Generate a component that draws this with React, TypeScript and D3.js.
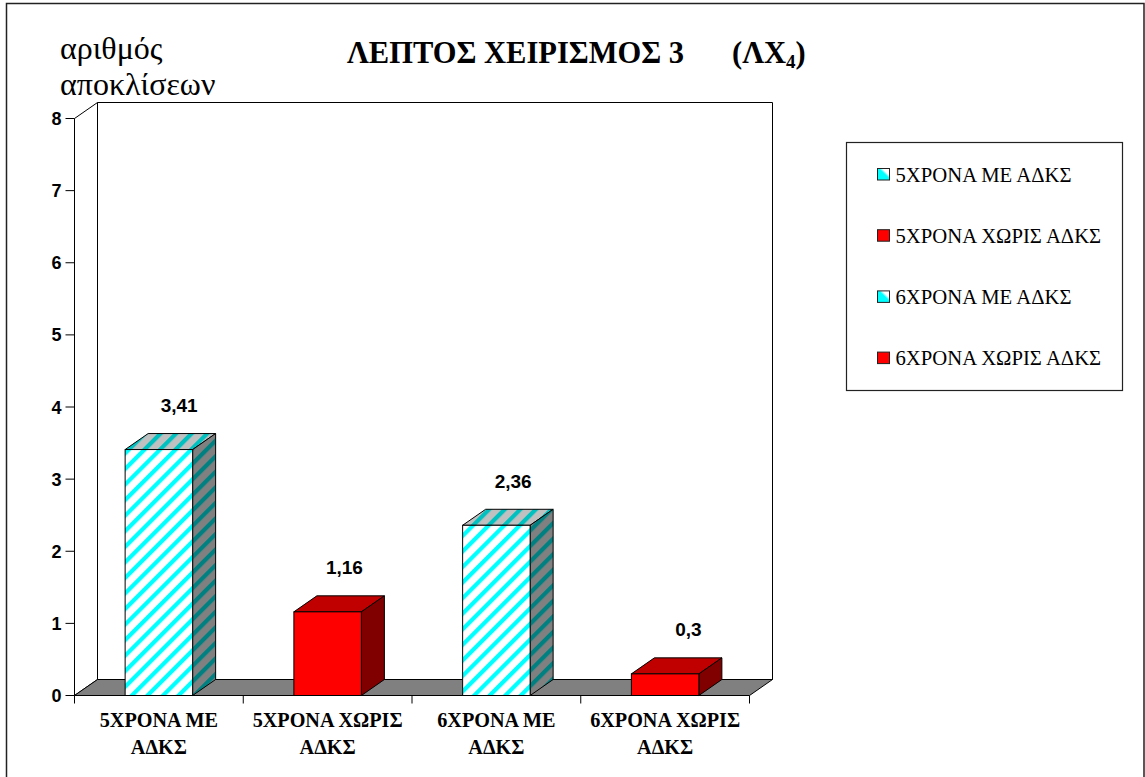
import React from "react";
import * as d3 from "d3";

const categories = ["5ΧΡΟΝΑ ΜΕ ΑΔΚΣ", "5ΧΡΟΝΑ ΧΩΡΙΣ ΑΔΚΣ", "6ΧΡΟΝΑ ΜΕ ΑΔΚΣ", "6ΧΡΟΝΑ ΧΩΡΙΣ ΑΔΚΣ"];
const axisLines = [["5ΧΡΟΝΑ ΜΕ", "ΑΔΚΣ"], ["5ΧΡΟΝΑ ΧΩΡΙΣ", "ΑΔΚΣ"], ["6ΧΡΟΝΑ ΜΕ", "ΑΔΚΣ"], ["6ΧΡΟΝΑ ΧΩΡΙΣ", "ΑΔΚΣ"]];
const values = [3.41, 1.16, 2.36, 0.3];
const valueLabels = ["3,41", "1,16", "2,36", "0,3"];
const striped = [true, false, true, false];
const yTicks = [0, 1, 2, 3, 4, 5, 6, 7, 8];

const SERIF = "'Liberation Serif', 'Times New Roman', serif";
const SANS = "'Liberation Sans', Arial, sans-serif";

// Projection of the 3D depth and bar size
const DX = 23;
const DY = -16;
const BAR_W = 67.5;
// Horizontal nudge of each value label from its bar's left edge
const labelShift = [54, 50.5, 50.5, 57];

const x = d3.scaleBand<string>().domain(categories).range([74.5, 749.5]).paddingInner(0).paddingOuter(0);
const y = d3.scaleLinear().domain([0, 8]).range([695.5, 118.5]);

function poly(pts: [number, number][]) {
  return (d3.line()(pts) as string) + "Z";
}

function stripes(id: string, bg: string, fg: string) {
  return (
    <pattern id={id} width={11} height={11} patternUnits="userSpaceOnUse" patternTransform="rotate(-45)">
      <rect width={11} height={11} fill={bg} />
      <rect width={11} height={4.2} fill={fg} />
    </pattern>
  );
}

export default function App() {
  const y0 = y(0);
  const xL = x.range()[0];
  const xR = x.range()[1];
  const yTop = y(8);
  return (
    <svg width={1145} height={777} style={{ position: "absolute", left: 0, top: 0, background: "#fff" }}>
      <defs>
        {stripes("faceStripe", "#ffffff", "#00ffff")}
        {stripes("sideStripe", "#808080", "#008080")}
        {stripes("topStripe", "#c0c0c0", "#00c0c0")}
        <linearGradient id="swatchFill" x1="0" y1="1" x2="1" y2="0">
          <stop offset="0.55" stopColor="#00ffff" />
          <stop offset="0.7" stopColor="#ffffff" />
        </linearGradient>
      </defs>
      {/* frame, open along the lower edge of the page */}
      <path d="M6.5,777V3.5H1144V777" fill="none" stroke="#222" strokeWidth={1.5} />

      {/* back wall and side wall */}
      <path d={poly([[xL + DX, yTop + DY], [xR + DX, yTop + DY], [xR + DX, y0 + DY], [xL + DX, y0 + DY]])} fill="#fff" stroke="#000" />
      <path d={poly([[xL, yTop], [xL + DX, yTop + DY], [xL + DX, y0 + DY], [xL, y0]])} fill="#fff" stroke="#000" />
      {/* floor */}
      <path d={poly([[xL, y0], [xL + DX, y0 + DY], [xR + DX, y0 + DY], [xR, y0]])} fill="#808080" stroke="#000" />

      {/* value axis */}
      {yTicks.map((t) => (
        <g key={t}>
          <line x1={xL - 9} x2={xL} y1={y(t)} y2={y(t)} stroke="#000" />
          <text x={xL - 13} y={y(t) + 6.5} textAnchor="end" fontFamily={SANS} fontWeight={700} fontSize={18}>{t}</text>
        </g>
      ))}

      {/* category ticks and labels */}
      {[...categories.map((c) => x(c) as number), xR].map((p) => (
        <line key={p} x1={p} x2={p} y1={y0} y2={y0 + 8} stroke="#000" />
      ))}
      {categories.map((c, i) => (
        <text key={c} textAnchor="middle" fontFamily={SERIF} fontWeight={700} fontSize={20.2}>
          {axisLines[i].map((l, j) => (
            <tspan key={j} x={(x(c) as number) + x.bandwidth() / 2} y={727 + j * 27}>{l}</tspan>
          ))}
        </text>
      ))}

      {/* bars */}
      {categories.map((c, i) => {
        const bx = (x(c) as number) + (x.bandwidth() - BAR_W) / 2;
        const by = y(values[i]);
        const front = striped[i] ? "url(#faceStripe)" : "#ff0000";
        const side = striped[i] ? "url(#sideStripe)" : "#800000";
        const top = striped[i] ? "url(#topStripe)" : "#c00000";
        return (
          <g key={c} stroke="#000" strokeWidth={1}>
            <path d={poly([[bx, by], [bx + DX, by + DY], [bx + BAR_W + DX, by + DY], [bx + BAR_W, by]])} fill={top} />
            <path d={poly([[bx + BAR_W, by], [bx + BAR_W + DX, by + DY], [bx + BAR_W + DX, y0 + DY], [bx + BAR_W, y0]])} fill={side} />
            <rect x={bx} y={by} width={BAR_W} height={y0 - by} fill={front} />
            <text x={bx + labelShift[i]} y={by - 37.5} textAnchor="middle" stroke="none" fontFamily={SANS} fontWeight={700} fontSize={19}>{valueLabels[i]}</text>
          </g>
        );
      })}

      {/* titles */}
      <text x={347} y={63} fontFamily={SERIF} fontWeight={700} fontSize={30.5}>ΛΕΠΤΟΣ ΧΕΙΡΙΣΜΟΣ 3</text>
      <text x={732} y={63} fontFamily={SERIF} fontWeight={700} fontSize={30.5}>(ΛΧ<tspan fontSize={19} dy={5}>4</tspan><tspan dy={-5}>)</tspan></text>
      <text x={60} y={59} fontFamily={SERIF} fontSize={32}>αριθμός</text>
      <text x={60} y={95} fontFamily={SERIF} fontSize={32}>αποκλίσεων</text>

      {/* legend */}
      <rect x={846.5} y={142.5} width={276} height={248} fill="#fff" stroke="#222" strokeWidth={1.2} />
      {categories.map((c, i) => (
        <g key={c}>
          <rect x={877.5} y={168.5 + i * 61.2} width={12} height={11.5} fill={striped[i] ? "url(#swatchFill)" : "#ff0000"} stroke="#222" />
          <text x={895.5} y={181.5 + i * 61.2} fontFamily={SERIF} fontSize={20.7}>{c}</text>
        </g>
      ))}
    </svg>
  );
}
